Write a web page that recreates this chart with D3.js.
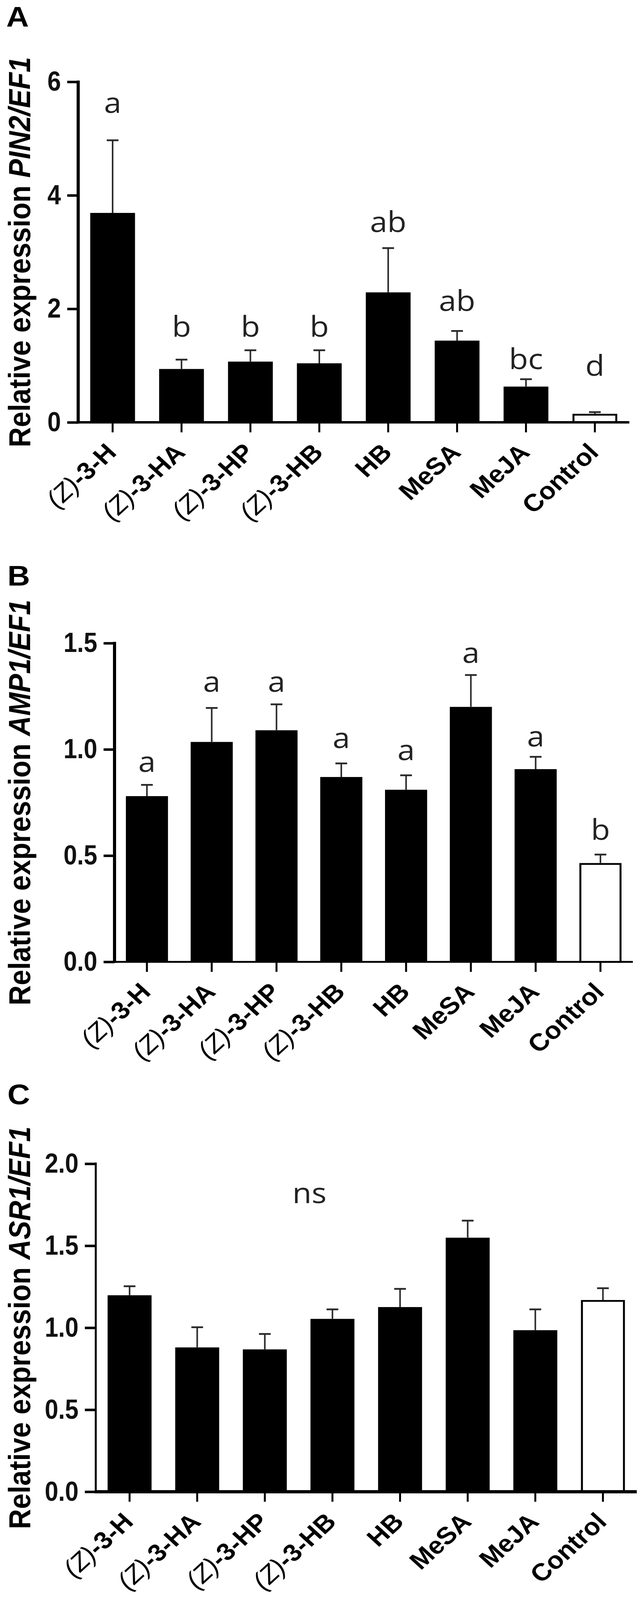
<!DOCTYPE html>
<html>
<head>
<meta charset="utf-8">
<script src="https://cdn.jsdelivr.net/npm/d3@7.9.0/dist/d3.min.js"></script>
<style>
  html, body { margin: 0; background: #fff; overflow: hidden; }
  svg { display: block; }
</style>
</head>
<body>
<svg id="fig"></svg>
<script>
// treatments on the x axis (same for all three panels)
const categories = ['(Z)-3-H', '(Z)-3-HA', '(Z)-3-HP', '(Z)-3-HB', 'HB', 'MeSA', 'MeJA', 'Control'];

// A: PIN2/EF1
const pin2Mean = [3.69, 0.94, 1.07, 1.04, 2.29, 1.44, 0.63, 0.15];
const pin2Err = [1.28, 0.165, 0.20, 0.23, 0.78, 0.17, 0.13, 0.03];
const pin2Letters = ['a', 'b', 'b', 'b', 'ab', 'ab', 'bc', 'd'];
const pin2LetterAt = [5.45, 1.51, 1.51, 1.51, 3.35, 1.96, 0.94, 0.82];
const pin2Ticks = [0, 2, 4, 6];

// B: AMP1/EF1
const amp1Mean = [0.78, 1.035, 1.09, 0.87, 0.81, 1.20, 0.907, 0.465];
const amp1Err = [0.053, 0.16, 0.122, 0.064, 0.068, 0.15, 0.058, 0.04];
const amp1Letters = ['a', 'a', 'a', 'a', 'a', 'a', 'a', 'b'];
const amp1LetterAt = [0.894, 1.271, 1.271, 1.006, 0.95, 1.407, 1.014, 0.574];
const amp1Ticks = [0, 0.5, 1.0, 1.5];

// C: ASR1/EF1
const asr1Mean = [1.198, 0.88, 0.868, 1.054, 1.126, 1.549, 0.985, 1.169];
const asr1Err = [0.055, 0.123, 0.094, 0.058, 0.111, 0.104, 0.127, 0.072];
const asr1Note = 'ns';
const asr1NoteAt = 1.76;
const asr1Ticks = [0, 0.5, 1.0, 1.5, 2.0];

// the figure is laid out on a 1645 x 4478 sheet and squeezed into the visible window
const W = 1645, H = 4478;
const viewH = Math.min(H, window.innerHeight || H);
const svg = d3.select('#fig')
  .attr('width', W)
  .attr('height', viewH)
  .attr('viewBox', `0 0 ${W} ${H}`)
  .attr('preserveAspectRatio', 'none');

const sansFont = '"Liberation Sans", Arial, sans-serif';
const letterFont = '"Open Sans", "Noto Sans", sans-serif';

function drawPanel(opt) {
  const g = svg.append('g');
  const x = d3.scaleBand()
    .domain(categories)
    .range([opt.left, opt.right])
    .paddingInner(0.35)
    .paddingOuter(0.175);
  const y = d3.scaleLinear()
    .domain([0, d3.max(opt.ticks)])
    .range([opt.bottom, opt.top]);

  // panel letter
  g.append('text')
    .attr('x', opt.tagX)
    .attr('y', opt.tagY)
    .attr('font-family', sansFont)
    .attr('font-weight', 'bold')
    .attr('font-size', 80)
    .text(opt.tag);

  // bars
  const rows = categories.map((c, i) => ({ c, m: opt.mean[i], e: opt.err[i], i }));
  const sw = 5;
  g.selectAll('rect.bar')
    .data(rows)
    .join('rect')
    .attr('class', 'bar')
    .attr('x', d => d.c === 'Control' ? x(d.c) + sw / 2 : x(d.c))
    .attr('width', d => d.c === 'Control' ? x.bandwidth() - sw : x.bandwidth())
    .attr('y', d => d.c === 'Control' ? y(d.m) + sw / 2 : y(d.m))
    .attr('height', d => d.c === 'Control' ? y(0) - y(d.m) - sw / 2 : y(0) - y(d.m))
    .attr('fill', d => d.c === 'Control' ? '#fff' : '#000')
    .attr('stroke', d => d.c === 'Control' ? '#000' : 'none')
    .attr('stroke-width', sw);

  // error bars (upper only)
  const cx = d => x(d.c) + x.bandwidth() / 2;
  g.selectAll('line.err')
    .data(rows)
    .join('line')
    .attr('class', 'err')
    .attr('x1', cx).attr('x2', cx)
    .attr('y1', d => y(d.m))
    .attr('y2', d => y(d.m + d.e))
    .attr('stroke', '#2a2a2a')
    .attr('stroke-width', 4);
  g.selectAll('line.cap')
    .data(rows)
    .join('line')
    .attr('class', 'cap')
    .attr('x1', d => cx(d) - 15).attr('x2', d => cx(d) + 15)
    .attr('y1', d => y(d.m + d.e))
    .attr('y2', d => y(d.m + d.e))
    .attr('stroke', '#2a2a2a')
    .attr('stroke-width', 5);

  // significance letters
  if (opt.letters) {
    g.selectAll('text.sig')
      .data(rows)
      .join('text')
      .attr('class', 'sig')
      .attr('x', cx)
      .attr('y', d => y(opt.letterAt[d.i]))
      .attr('text-anchor', 'middle')
      .attr('font-family', letterFont)
      .attr('font-size', 80)
      .attr('fill', '#222')
      .text(d => opt.letters[d.i]);
  }
  if (opt.note) {
    g.append('text')
      .attr('x', x('(Z)-3-HP') + x.bandwidth() / 2 + x.step() * 0.66)
      .attr('y', y(opt.noteAt))
      .attr('text-anchor', 'middle')
      .attr('font-family', letterFont)
      .attr('font-size', 80)
      .attr('fill', '#222')
      .text(opt.note);
  }

  // y axis (numbers drawn narrow, like Arial Narrow)
  const yAxis = g.append('g')
    .attr('transform', `translate(${opt.left},0)`)
    .call(d3.axisLeft(y).tickValues(opt.ticks).tickSize(28).tickPadding(16)
      .tickFormat(opt.fmt));
  yAxis.select('.domain').remove();
  yAxis.selectAll('.tick line').attr('stroke', '#000').attr('stroke-width', 7);
  yAxis.selectAll('.tick text')
    .attr('x', null)
    .attr('transform', 'translate(-44,0) scale(0.82,1)')
    .attr('font-family', sansFont)
    .attr('font-weight', 'bold')
    .attr('font-size', 76)
    .attr('fill', '#111');
  g.append('line')
    .attr('x1', opt.left).attr('x2', opt.left)
    .attr('y1', opt.top - 3.5).attr('y2', opt.bottom + opt.xw / 2)
    .attr('stroke', '#000')
    .attr('stroke-width', opt.yw);

  // x axis
  const xAxis = g.append('g')
    .attr('transform', `translate(0,${opt.bottom})`)
    .call(d3.axisBottom(x).tickSize(28).tickFormat(''));
  xAxis.select('.domain').remove();
  xAxis.selectAll('.tick line').attr('stroke', '#000').attr('stroke-width', 5);
  g.append('line')
    .attr('x1', opt.left - opt.yw / 2).attr('x2', opt.right)
    .attr('y1', opt.bottom).attr('y2', opt.bottom)
    .attr('stroke', '#000')
    .attr('stroke-width', opt.xw);

  // rotated category labels
  categories.forEach(c => {
    const px = x(c) + x.bandwidth() / 2 + 13;
    const py = opt.bottom + 88;
    const t = g.append('text')
      .attr('transform', `translate(${px},${py}) rotate(-45)`)
      .attr('text-anchor', 'end')
      .attr('font-family', sansFont)
      .attr('font-size', 68)
      .attr('font-weight', 'bold');
    if (c.startsWith('(Z)')) {
      t.append('tspan').attr('font-style', 'italic').attr('font-weight', 'normal').text('(Z)');
      t.append('tspan').text(c.slice(3));
    } else {
      t.text(c);
    }
  });

  // y axis title
  const title = g.append('text')
    .attr('transform', `translate(77,${(opt.top + opt.bottom) / 2}) rotate(-90)`)
    .attr('text-anchor', 'middle')
    .attr('font-family', sansFont)
    .attr('font-weight', 'bold')
    .attr('font-size', 78);
  title.append('tspan').text('Relative expression ');
  title.append('tspan').attr('font-style', 'italic').text(opt.gene);
}

drawPanel({
  tag: 'A', tagX: 16, tagY: 74,
  left: 200, right: 1610, top: 229, bottom: 1182, yw: 8, xw: 7,
  mean: pin2Mean, err: pin2Err, letters: pin2Letters, letterAt: pin2LetterAt,
  ticks: pin2Ticks, fmt: d3.format('d'), gene: 'PIN2/EF1'
});
drawPanel({
  tag: 'B', tagX: 19, tagY: 1639,
  left: 293, right: 1619, top: 1800, bottom: 2692, yw: 8, xw: 5,
  mean: amp1Mean, err: amp1Err, letters: amp1Letters, letterAt: amp1LetterAt,
  ticks: amp1Ticks, fmt: d3.format('.1f'), gene: 'AMP1/EF1'
});
drawPanel({
  tag: 'C', tagX: 19, tagY: 3091,
  left: 245, right: 1629, top: 3257, bottom: 4175, yw: 5, xw: 9,
  mean: asr1Mean, err: asr1Err, note: asr1Note, noteAt: asr1NoteAt,
  ticks: asr1Ticks, fmt: d3.format('.1f'), gene: 'ASR1/EF1'
});
</script>
</body>
</html>
